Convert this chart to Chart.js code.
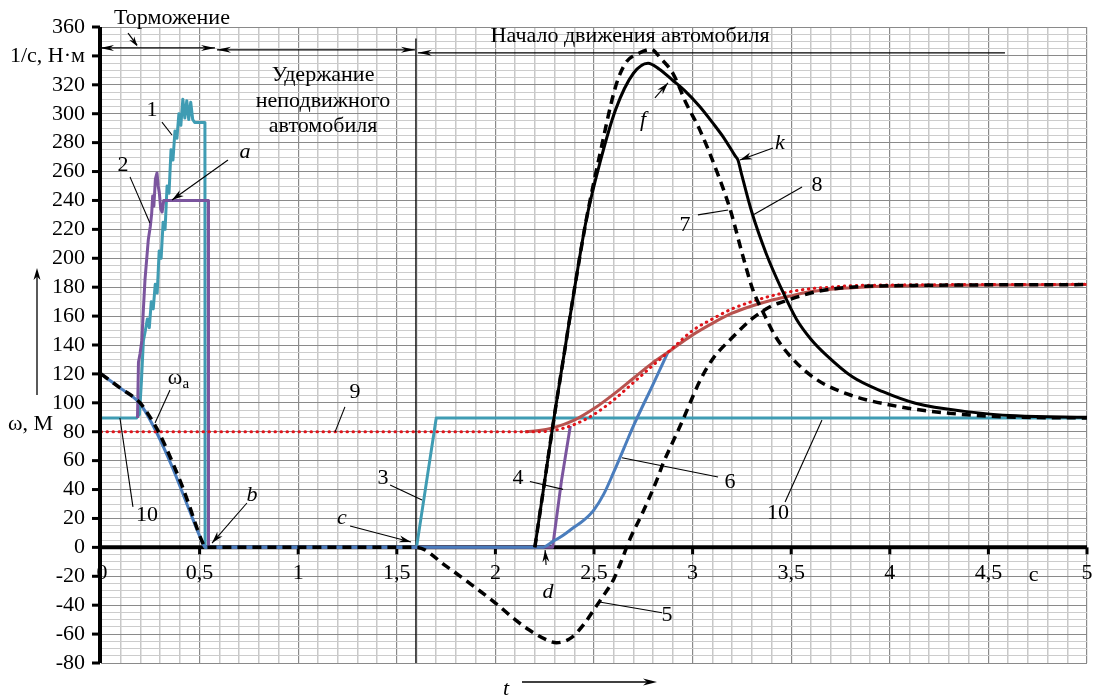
<!DOCTYPE html>
<html><head><meta charset="utf-8">
<script src="https://cdn.jsdelivr.net/npm/chart.js@4.4.1/dist/chart.umd.min.js"></script>
<style>html,body{margin:0;padding:0;background:#fff;}canvas{display:block;}</style>
</head><body>
<canvas id="c" width="1093" height="697"></canvas>
<script>
// ---- tick labels ----
const xTickValues = [0, 0.5, 1, 1.5, 2, 2.5, 3, 3.5, 4, 4.5, 5];
const xTickLabels = ['0', '0,5', '1', '1,5', '2', '2,5', '3', '3,5', '4', '4,5', '5'];
const yTickValues = [-80, -60, -40, -20, 0, 20, 40, 60, 80, 100, 120, 140, 160, 180, 200, 220, 240, 260, 280, 300, 320, 340, 360];
const yTickLabels = ['-80', '-60', '-40', '-20', '0', '20', '40', '60', '80', '100', '120', '140', '160', '180', '200', '220', '240', '260', '280', '300', '320', '1/с, Н·м', '360'];

// ---- series (t in s, value) ----
// teal: curves 1, 3, 10
const tealT = [0, 0.18, 0.195, 0.205, 0.215, 0.225, 0.235, 0.245, 0.255, 0.265, 0.275, 0.285, 0.295, 0.305, 0.315, 0.325, 0.335, 0.345, 0.355, 0.365, 0.375, 0.385, 0.395, 0.405, 0.415, 0.425, 0.435, 0.445, 0.455, 0.465, 0.475, 0.527, 0.528, 1.6, 1.7, 5];
const tealV = [89.5, 89.5, 92, 115, 143, 150, 158, 152, 170, 165, 182, 176, 205, 200, 225, 220, 250, 245, 275, 268, 288, 283, 300, 292, 310, 297, 309, 296, 308, 296, 294, 294, 0, 0, 89.5, 89.5];
// purple: curves 2, 4
const purpleT = [0.185, 0.19, 0.198, 0.207, 0.215, 0.223, 0.232, 0.24, 0.25, 0.257, 0.262, 0.268, 0.276, 0.284, 0.29, 0.296, 0.303, 0.31, 0.318, 0.544, 0.545, 2.29, 2.335, 2.38];
const purpleV = [89.5, 128, 134, 143, 165, 185, 200, 213, 222, 231, 243, 236, 255, 259, 250, 245, 234, 232, 240, 240, 0, 0, 46, 84];
// blue: curve 6
const blueT = [0, 0.1, 0.2, 0.28, 0.36, 0.45, 0.5, 0.53, 2.24, 2.29, 2.34, 2.39, 2.45, 2.5, 2.55, 2.6, 2.65, 2.7, 2.8, 2.875];
const blueV = [120, 110, 99, 80, 56, 25, 8, 0, 0, 4, 8, 13, 19, 26, 37, 52, 68, 84, 113, 135];
// brown solid (continuation of 6)
const brownT = [2.15, 2.2, 2.3, 2.4, 2.5, 2.6, 2.7, 2.8, 2.875, 3.0, 3.1, 3.2, 3.3, 3.4, 3.5, 3.6, 3.7, 3.8, 3.9, 4.0, 4.5, 5];
const brownV = [80, 80.5, 83, 88, 96, 106, 117, 128, 135, 147, 155, 162, 167, 171, 174, 177, 178.5, 179.5, 180.3, 180.8, 181.5, 181.8];
// red dotted: curve 9
const redT = [0, 2.2, 2.3, 2.4, 2.5, 2.6, 2.7, 2.8, 2.9, 3.0, 3.1, 3.2, 3.3, 3.4, 3.5, 3.6, 3.7, 3.8, 4.0, 5];
const redV = [80, 80, 81, 85, 92, 102, 114, 126, 138, 150, 158, 165, 170, 174, 177, 179, 180, 181, 181.5, 182];
// black dashed: curve 5
const c5T = [0, 0.1, 0.198, 0.24, 0.28, 0.32, 0.365, 0.41, 0.45, 0.49, 0.51, 0.53, 1.6, 1.75, 1.9, 2.0, 2.1, 2.17, 2.26, 2.31, 2.35, 2.39, 2.45, 2.51, 2.56, 2.6, 2.64, 2.68, 2.75, 2.82, 2.85, 2.9, 2.95, 3.0, 3.04, 3.1, 3.2, 3.3, 3.4, 3.46, 3.55, 3.63, 3.8, 4.0, 5];
const c5V = [120, 110, 100, 92, 83, 72, 58, 43, 28, 12, 5, 0, 0, -13, -28, -38.5, -50, -57, -64, -66, -65, -62, -53, -41, -31, -22, -9, 5, 25, 47, 58, 73, 88, 104, 116, 130, 145, 158, 167, 170, 174, 177, 180, 181, 181.8];
// black dashed: curve 7
const c7T = [2.2, 2.25, 2.3, 2.35, 2.4, 2.46, 2.53, 2.61, 2.66, 2.73, 2.79, 2.84, 2.9, 2.968, 3.036, 3.12, 3.19, 3.256, 3.306, 3.36, 3.42, 3.51, 3.63, 3.8, 4.05, 4.3, 4.56, 5];
const c7V = [0, 46, 92, 135, 178, 226, 272, 319, 335, 342, 344.5, 338, 328, 307, 289, 261, 234, 201, 178, 162, 146, 130, 116, 105.4, 97.3, 92.8, 90.4, 89.5];
// black solid: curve 8
const c8T = [2.2, 2.25, 2.3, 2.35, 2.4, 2.46, 2.53, 2.61, 2.7, 2.774, 2.83, 2.9, 2.96, 3.036, 3.1, 3.16, 3.215, 3.23, 3.245, 3.3, 3.374, 3.45, 3.526, 3.6, 3.678, 3.81, 3.965, 4.13, 4.39, 4.64, 5];
const c8V = [0, 46, 92, 135, 178, 226, 266, 303, 328, 335, 331, 323, 316, 305, 294, 283, 271, 268, 260, 232, 203, 179, 158, 144, 133, 118, 107.7, 99.7, 93.9, 91, 90];

// ---- annotations (data coordinates) ----
const noteTexts = [
  ['1', 0.259, 302.7, false], ['2', 0.112, 264.6, false], ['a', 0.730, 273.5, true],
  ['10', 0.233, 22.4, false], ['9', 1.288, 107.5, false], ['b', 0.766, 36.3, true],
  ['3', 1.43, 48, false], ['c', 1.222, 20.3, true], ['4', 2.115, 48, false],
  ['d', 2.267, -30.7, true], ['5', 2.870, -46.6, false], ['6', 3.190, 45.3, false],
  ['10', 3.433, 23.8, false], ['7', 2.961, 223, false], ['8', 3.631, 250.8, false],
  ['k', 3.443, 279.8, true], ['f', 2.749, 295.7, true]
];
const leaders = [
  [0.309, 294.2, 0.360, 285.3, false], [0.147, 256.3, 0.248, 224.4, false],
  [0.644, 268, 0.360, 240.3, true], [0.350, 108.9, 0.274, 86.1, false],
  [0.162, 28, 0.096, 89.5, false], [1.237, 97.2, 1.187, 79.9, false],
  [0.740, 30.7, 0.563, 3.0, true], [1.466, 43.2, 1.628, 32.8, false],
  [1.263, 14.8, 1.572, 3.7, true], [2.175, 45.6, 2.343, 40.1, false],
  [2.257, -12.2, 2.252, -1.8, true], [2.520, -37.6, 2.845, -45.2, false],
  [2.642, 62, 3.129, 48.7, false], [3.469, 31.4, 3.656, 88.1, false],
  [3.027, 230, 3.180, 233.4, false], [3.555, 249.3, 3.306, 230, false],
  [3.408, 276.3, 3.240, 268, true], [2.809, 310.9, 2.875, 321.3, true]
];

function zip(t, v) { return t.map((x, i) => ({ x: x, y: v[i] })); }

const SERIF = '"Liberation Serif", "Times New Roman", serif';
const FS = '22px ';

function arrowHead(ctx, x1, y1, x2, y2, len, w) {
  const a = Math.atan2(y2 - y1, x2 - x1);
  ctx.beginPath();
  ctx.moveTo(x2, y2);
  ctx.lineTo(x2 - len * Math.cos(a) + w * Math.sin(a), y2 - len * Math.sin(a) - w * Math.cos(a));
  ctx.lineTo(x2 - len * Math.cos(a) * 0.7, y2 - len * Math.sin(a) * 0.7);
  ctx.lineTo(x2 - len * Math.cos(a) - w * Math.sin(a), y2 - len * Math.sin(a) + w * Math.cos(a));
  ctx.closePath();
  ctx.fill();
}
function seg(ctx, x1, y1, x2, y2) { ctx.beginPath(); ctx.moveTo(x1, y1); ctx.lineTo(x2, y2); ctx.stroke(); }

const deco = {
  id: 'deco',
  beforeDatasetsDraw(chart) {
    const { ctx, chartArea: a, scales: { x, y } } = chart;
    ctx.save();
    ctx.strokeStyle = '#000';
    ctx.lineWidth = 1.3;
    seg(ctx, x.getPixelForValue(1.597), y.getPixelForValue(352), x.getPixelForValue(1.597), a.bottom);
    const y0 = y.getPixelForValue(0);
    ctx.lineWidth = 4;
    seg(ctx, a.left, y0, a.right, y0);
    ctx.lineWidth = 3;
    xTickValues.forEach(v => { if (v === 0) return; const px = x.getPixelForValue(v); seg(ctx, px, y0, px, y0 + 7); });
    ctx.restore();
  },
  afterDatasetsDraw(chart) {
    const { ctx, chartArea: a, scales: { x, y } } = chart;
    const X = t => x.getPixelForValue(t), Y = v => y.getPixelForValue(v);
    ctx.save();
    ctx.strokeStyle = '#000'; ctx.fillStyle = '#000';
    ctx.lineWidth = 4;
    seg(ctx, a.left - 1, a.top, a.left - 1, a.bottom);
    ctx.lineWidth = 3;
    yTickValues.forEach(v => seg(ctx, a.left - 9, Y(v), a.left - 1, Y(v)));
    ctx.font = FS + SERIF;
    ctx.textAlign = 'right'; ctx.textBaseline = 'middle';
    yTickValues.forEach((v, i) => ctx.fillText(yTickLabels[i], 85, Y(v)));
    ctx.textAlign = 'center';
    xTickValues.forEach((v, i) => ctx.fillText(xTickLabels[i], X(v) + (v === 0 ? 1 : 0), Y(0) + 26));
    ctx.fillText('с', X(4.73), Y(0) + 28);
    ctx.textAlign = 'left';
    ctx.fillText('ω, М', 8, 424);
    ctx.lineWidth = 1.3;
    seg(ctx, 37, 395, 37, 276);
    arrowHead(ctx, 37, 395, 37, 268, 12, 3.5);
    ctx.font = 'italic ' + FS + SERIF;
    ctx.fillText('t', 503, 689);
    seg(ctx, 522, 682, 650, 682);
    arrowHead(ctx, 522, 682, 657, 682, 14, 3.5);
    ctx.font = FS + SERIF;
    ctx.textAlign = 'center';
    ctx.fillText('Торможение', X(0.36), Y(366));
    ctx.fillText('Удержание', X(1.126), Y(326.8));
    ctx.fillText('неподвижного', X(1.126), Y(308.8));
    ctx.fillText('автомобиля', X(1.126), Y(291.5));
    ctx.fillText('Начало движения автомобиля', X(2.683), Y(353.7));
    ctx.lineWidth = 1.2;
    seg(ctx, X(0.137), Y(355.8), X(0.183), Y(347.5));
    arrowHead(ctx, X(0.137), Y(355.8), X(0.185), Y(346.5), 10, 3);
    const phaseLines = [[-0.005, 0.578, 345.5], [0.588, 1.592, 344.2], [1.607, 4.584, 342.1]];
    phaseLines.forEach(p => {
      seg(ctx, X(p[0]), Y(p[2]), X(p[1]), Y(p[2]));
      arrowHead(ctx, X(p[1]), Y(p[2]), X(p[0]), Y(p[2]), 14, 3);
      if (p[1] < 4) arrowHead(ctx, X(p[0]), Y(p[2]), X(p[1]), Y(p[2]), 14, 3);
    });
    ctx.lineWidth = 1.1;
    leaders.forEach(l => {
      seg(ctx, X(l[0]), Y(l[1]), X(l[2]), Y(l[3]));
      if (l[4]) arrowHead(ctx, X(l[0]), Y(l[1]), X(l[2]), Y(l[3]), 12, 3.5);
    });
    noteTexts.forEach(n => {
      ctx.font = (n[3] ? 'italic ' : '') + FS + SERIF;
      ctx.fillText(n[0], X(n[1]), Y(n[2]));
    });
    ctx.font = FS + SERIF;
    ctx.fillText('ω', X(0.375), Y(117.2));
    ctx.font = '15px ' + SERIF;
    ctx.fillText('а', X(0.375) + 11, Y(117.2) + 6);
    ctx.restore();
  }
};

const isHalf = v => Math.abs(v * 2 - Math.round(v * 2)) < 1e-6;
const isTwenty = v => Math.abs(v / 20 - Math.round(v / 20)) < 1e-6;

const common = { pointRadius: 0, fill: false, borderJoinStyle: 'round' };
new Chart(document.getElementById('c'), {
  type: 'line',
  data: {
    datasets: [
      Object.assign({ data: zip(c5T, c5V), borderColor: '#000', borderWidth: 3.5, borderDash: [9, 6], cubicInterpolationMode: 'monotone' }, common),
      Object.assign({ data: zip(c7T, c7V), borderColor: '#000', borderWidth: 3.5, borderDash: [9, 6], cubicInterpolationMode: 'monotone' }, common),
      Object.assign({ data: zip(c8T, c8V), borderColor: '#000', borderWidth: 3, cubicInterpolationMode: 'monotone' }, common),
      Object.assign({ data: zip(redT, redV), borderColor: '#e0141a', borderWidth: 3, borderDash: [0.5, 5.5], borderCapStyle: 'round', cubicInterpolationMode: 'monotone' }, common),
      Object.assign({ data: zip(brownT, brownV), borderColor: '#b8534f', borderWidth: 3, cubicInterpolationMode: 'monotone' }, common),
      Object.assign({ data: zip(blueT, blueV), borderColor: '#4a7dbd', borderWidth: 3, cubicInterpolationMode: 'monotone' }, common),
      Object.assign({ data: zip(purpleT, purpleV), borderColor: '#7b559e', borderWidth: 3, tension: 0 }, common),
      Object.assign({ data: zip(tealT, tealV), borderColor: '#3f9cb3', borderWidth: 3, tension: 0 }, common)
    ]
  },
  options: {
    responsive: false, animation: false, devicePixelRatio: 1,
    layout: { padding: { left: 101, right: 6, top: 27, bottom: 34 } },
    plugins: { legend: { display: false }, tooltip: { enabled: false } },
    scales: {
      x: {
        type: 'linear', min: 0, max: 5,
        ticks: { display: false, stepSize: 0.1 },
        border: { display: false },
        grid: { drawTicks: false, color: c => isHalf(c.tick.value) ? '#8a8a8a' : '#c8c8c8', lineWidth: c => isHalf(c.tick.value) ? 1.2 : 1.5 }
      },
      y: {
        type: 'linear', min: -80, max: 360,
        ticks: { display: false, stepSize: 5 },
        border: { display: false },
        grid: { drawTicks: false, color: c => isTwenty(c.tick.value) ? '#8a8a8a' : '#cccccc', lineWidth: 1 }
      }
    }
  },
  plugins: [deco]
});
</script>
</body></html>
